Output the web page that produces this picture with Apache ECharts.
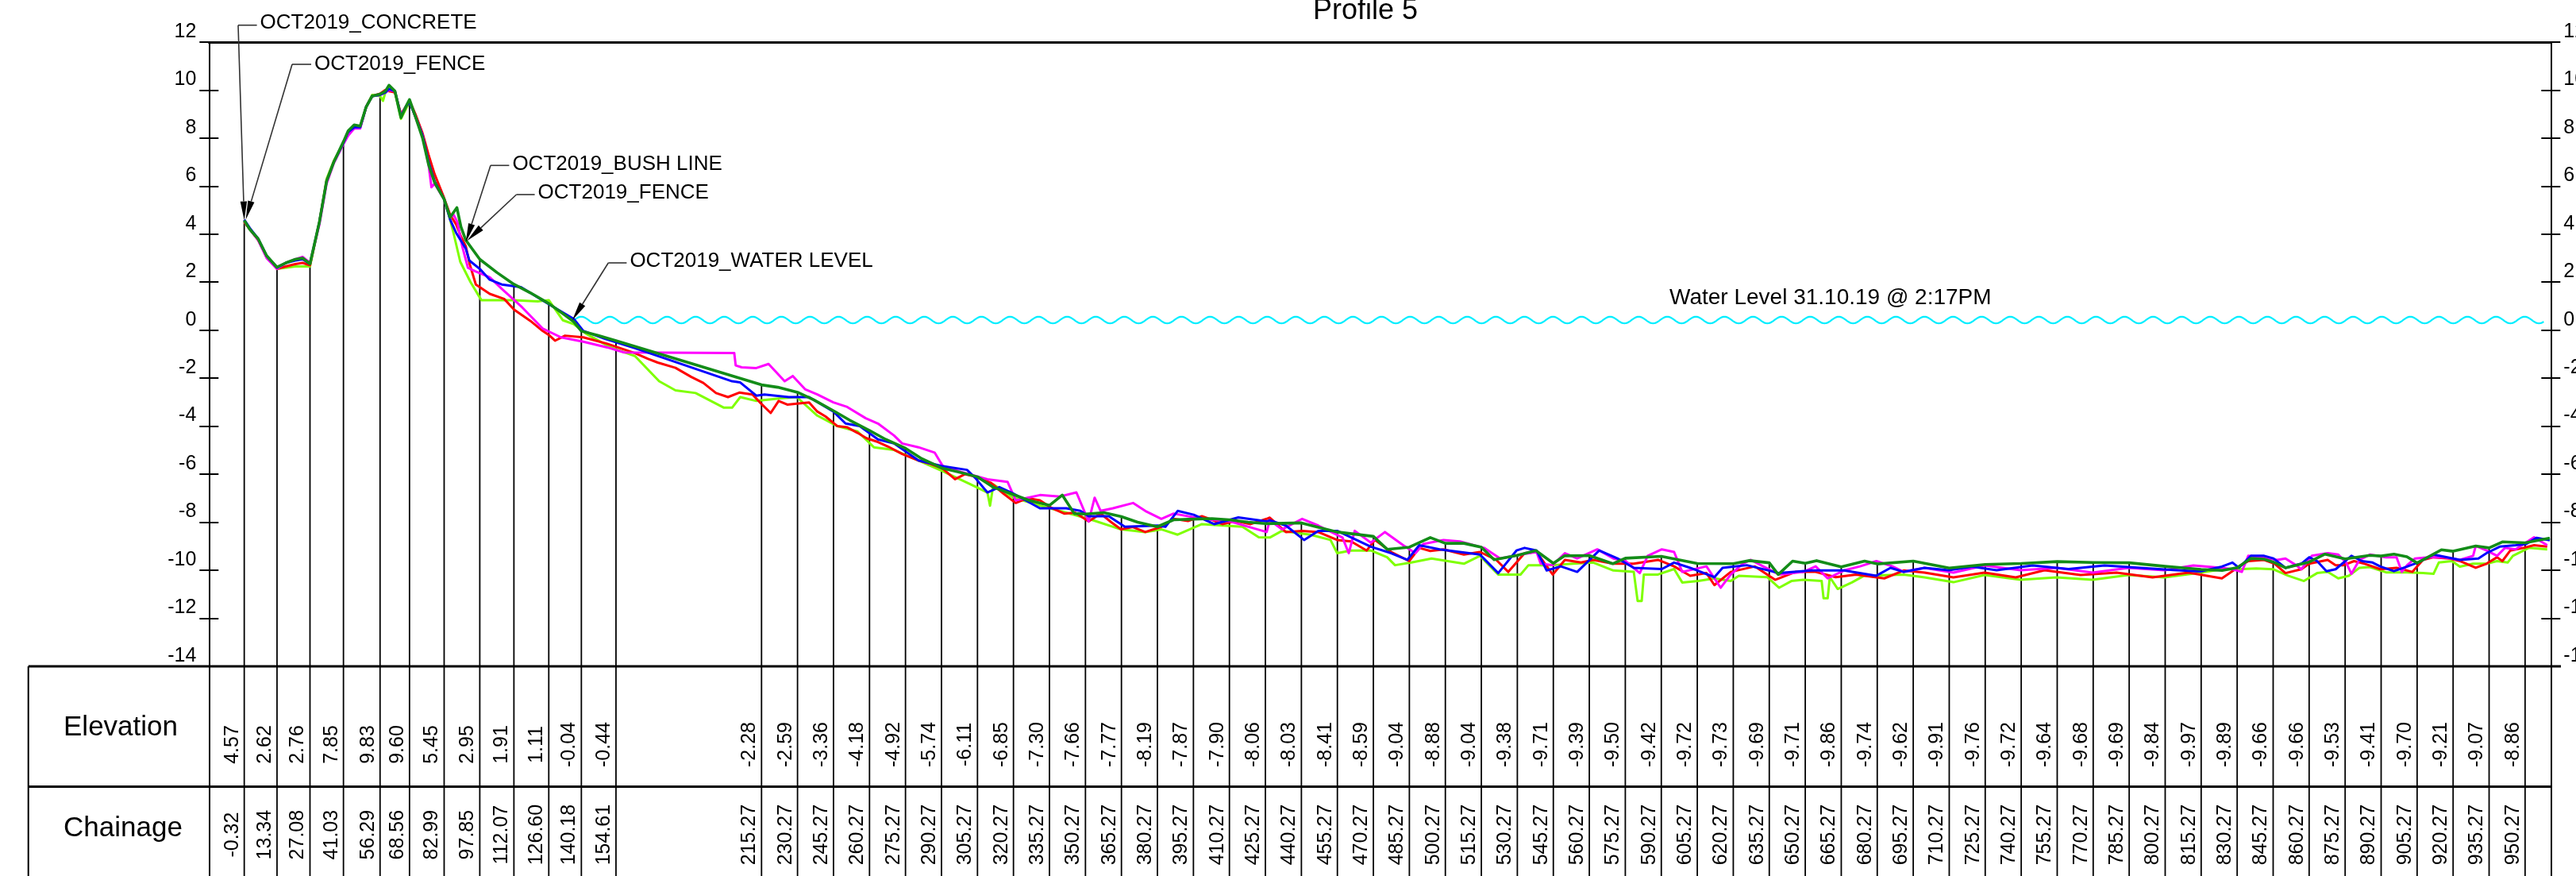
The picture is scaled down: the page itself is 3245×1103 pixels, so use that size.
<!DOCTYPE html>
<html><head><meta charset="utf-8">
<script src="https://cdn.jsdelivr.net/npm/echarts@6/dist/echarts.min.js"></script>
<style>html,body{margin:0;padding:0;background:#fff}#c{width:3245px;height:1103px}</style>
</head><body><div id="c"></div><script>
// ---------- DATA ----------
const stations = [-0.32,13.34,27.08,41.03,56.29,68.56,82.99,97.85,112.07,126.60,140.18,154.61,
215.27,230.27,245.27,260.27,275.27,290.27,305.27,320.27,335.27,350.27,365.27,380.27,395.27,410.27,425.27,
440.27,455.27,470.27,485.27,500.27,515.27,530.27,545.27,560.27,575.27,590.27,605.27,620.27,635.27,650.27,665.27,680.27,695.27,
710.27,725.27,740.27,755.27,770.27,785.27,800.27,815.27,830.27,845.27,
860.27,875.27,890.27,905.27,920.27,935.27,950.27];
const elevations = [4.57,2.62,2.76,7.85,9.83,9.60,5.45,2.95,1.91,1.11,-0.04,-0.44,
-2.28,-2.59,-3.36,-4.18,-4.92,-5.74,-6.11,-6.85,-7.30,-7.66,-7.77,-8.19,-7.87,-7.90,-8.06,
-8.03,-8.41,-8.59,-9.04,-8.88,-9.04,-9.38,-9.71,-9.39,-9.50,-9.42,-9.72,-9.73,-9.69,-9.71,-9.86,-9.74,-9.62,
-9.91,-9.76,-9.72,-9.64,-9.68,-9.69,-9.84,-9.97,-9.89,-9.66,
-9.66,-9.53,-9.41,-9.70,-9.21,-9.07,-8.86];

const darkGreen = [[-0.32,4.57],[2,4.2],[5.5,3.8],[9,3.1],[13.34,2.62],[17,2.8],[21,2.95],[24,3.0],[27.08,2.76],[31,4.5],[34,6.2],[37,7.0],[41.03,7.85],[43,8.3],[45.5,8.55],[48,8.5],[50.5,9.3],[53,9.75],[56.29,9.83],[58.5,9.95],[60,10.2],[62.5,9.95],[65,8.85],[67,9.3],[68.56,9.60],[71,8.9],[74,8.0],[76.5,6.9],[79,6.15],[82.99,5.45],[85.5,4.7],[88.3,5.1],[90,4.3],[92,3.75],[97.85,2.95],[105,2.4],[112.07,1.91],[119,1.55],[126.60,1.11],[133,0.65],[137,0.35],[140.18,-0.04],[147,-0.22],[154.61,-0.44],[185,-1.36],[215.27,-2.28],[222,-2.38],[230.27,-2.59],[237,-2.9],[245.27,-3.36],[252,-3.75],[260.27,-4.18],[267,-4.55],[275.27,-4.92],[282,-5.35],[290.27,-5.74],[297,-5.9],[305.27,-6.11],[312,-6.55],[320.27,-6.85],[327,-7.1],[335.27,-7.30],[340.6,-6.87],[345.6,-7.64],[350.27,-7.66],[358,-7.6],[365.27,-7.77],[372,-8.0],[380.27,-8.19],[387,-7.9],[395.27,-7.87],[403,-7.85],[410.27,-7.90],[418,-8.0],[425.27,-8.06],[440.27,-8.03],[455.27,-8.41],[470.27,-8.59],[476,-9.13],[485.27,-9.04],[494,-8.64],[500.27,-8.88],[508,-8.88],[515.27,-9.04],[520.6,-9.56],[530.27,-9.38],[538,-9.18],[545.27,-9.71],[550,-9.4],[560.27,-9.39],[570,-9.73],[575.27,-9.50],[590.27,-9.42],[605.27,-9.72],[620.27,-9.73],[627,-9.6],[635.27,-9.69],[639,-10.18],[645,-9.62],[650.27,-9.71],[655,-9.6],[665.27,-9.86],[675,-9.62],[680.27,-9.74],[695.27,-9.62],[710.27,-9.91],[725.27,-9.76],[740.27,-9.72],[755.27,-9.64],[770.27,-9.68],[785.27,-9.69],[800.27,-9.84],[815.27,-9.97],[824,-10.01],[830.27,-9.89],[836,-9.51],[841.5,-9.54],[845.27,-9.66],[850.4,-9.9],[860.27,-9.66],[866.9,-9.33],[875.27,-9.53],[885.6,-9.38],[890.27,-9.41],[895.6,-9.33],[901,-9.44],[905.27,-9.70],[915.4,-9.15],[920.27,-9.21],[929.7,-8.99],[935.27,-9.07],[940.8,-8.82],[950.27,-8.86],[960.6,-8.66]];

const blue = [[-0.32,4.6],[2,4.25],[5.5,3.8],[9,3.1],[13.34,2.6],[17,2.8],[21,2.9],[24,2.95],[27.08,2.76],[31,4.5],[34,6.2],[37,7.0],[41.03,7.8],[43,8.25],[45.5,8.45],[48,8.45],[50.5,9.3],[53,9.75],[56.29,9.8],[58.5,9.9],[60,10.05],[62.5,9.95],[65,8.9],[67,9.3],[68.56,9.5],[71,8.9],[74,8.1],[76.5,7.0],[79,6.2],[82.99,5.45],[85.5,4.6],[88,4.05],[92,3.4],[93.5,2.9],[97.85,2.55],[102,2.1],[107,1.9],[115,1.79],[126.6,1.08],[137,0.47],[141,-0.03],[150,-0.36],[162.5,-0.75],[203,-2.13],[206.4,-2.18],[213.1,-2.73],[216.5,-2.68],[226.6,-2.79],[235.1,-2.79],[245.2,-3.39],[250.3,-3.89],[256.2,-4.00],[263.8,-4.55],[270.5,-4.72],[280.7,-5.43],[290.3,-5.66],[300.9,-5.82],[304.3,-6.15],[309.4,-6.76],[314.4,-6.54],[320.3,-6.81],[331.3,-7.42],[342.3,-7.42],[348.2,-7.53],[351.6,-7.75],[360,-7.75],[366.7,-8.19],[380.3,-8.14],[383.6,-8.19],[388.7,-7.53],[395.4,-7.69],[403.9,-8.08],[414,-7.80],[425.8,-7.97],[427.1,-7.92],[433.8,-8.14],[441.4,-8.74],[447.3,-8.36],[455.2,-8.36],[469.2,-9.02],[477.7,-9.29],[484.4,-9.57],[489.4,-8.96],[497.9,-9.13],[506.3,-9.24],[514.7,-9.35],[522.3,-10.12],[529.9,-9.18],[533.3,-9.07],[538.3,-9.18],[542.5,-10.01],[548.4,-9.84],[555.2,-10.07],[564.4,-9.18],[572,-9.51],[578.8,-9.90],[590.5,-9.95],[595.6,-9.68],[602.3,-9.90],[612.4,-10.29],[615.8,-9.90],[625.9,-9.79],[639.4,-10.12],[652.9,-10.01],[666.4,-10.01],[679.9,-10.23],[685.8,-9.90],[691.3,-10.07],[700,-9.9],[710,-10.0],[720,-9.85],[730,-10.0],[745,-9.8],[760,-9.95],[775,-9.8],[790,-9.9],[805,-10.0],[815,-10.05],[823.9,-9.85],[828.3,-9.68],[831,-9.90],[836,-9.40],[841.5,-9.40],[845.4,-9.51],[850.4,-9.90],[857,-9.73],[860.3,-9.46],[863.6,-9.62],[867.5,-10.04],[871.3,-9.96],[877.9,-9.40],[882.3,-9.62],[886.7,-9.68],[890,-9.85],[895.6,-10.04],[901.1,-9.85],[905.5,-9.68],[912.1,-9.35],[923.1,-9.57],[930.8,-9.51],[934.2,-9.29],[939.7,-9.02],[946.3,-8.96],[950.7,-8.91],[955.1,-8.65],[960.6,-8.75]];

const red = [[-0.32,4.5],[2,4.2],[5.5,3.75],[9,3.05],[13.34,2.55],[17,2.65],[21,2.75],[24,2.8],[27.08,2.7],[31,4.5],[34,6.2],[37,7.0],[41.03,7.8],[43,8.25],[45.5,8.4],[48,8.45],[50.5,9.3],[53,9.75],[56.29,9.85],[58.5,10.0],[60,9.95],[62.5,9.9],[65,9.0],[67,9.3],[68.56,9.55],[71,9.0],[74,8.2],[76.5,7.3],[79,6.5],[82.99,5.5],[85.5,4.8],[88,4.4],[90,3.9],[92,3.5],[93.7,2.73],[96.2,1.9],[102,1.51],[108,1.3],[112.2,0.85],[119,0.38],[124,-0.03],[126.6,-0.2],[129.2,-0.44],[133.4,-0.23],[141,-0.3],[151,-0.57],[162.5,-0.96],[168,-1.2],[172,-1.35],[179.4,-1.57],[186,-1.95],[191,-2.2],[196.3,-2.62],[201.3,-2.79],[206,-2.6],[211.5,-2.68],[215,-3.05],[219.1,-3.45],[222.4,-2.95],[226,-3.1],[230,-3.06],[235.1,-3.01],[238.5,-3.39],[242,-3.6],[246.9,-4.00],[251,-4.05],[255.3,-4.28],[259,-4.5],[263.8,-4.66],[268,-4.85],[273.9,-5.16],[280.7,-5.43],[285,-5.55],[290.8,-5.77],[295.9,-6.21],[300,-6.0],[304.3,-6.10],[311,-6.37],[316,-6.8],[321.2,-7.20],[326,-7.0],[331.3,-7.09],[336,-7.4],[341.4,-7.64],[346,-7.6],[351.6,-7.97],[356.6,-7.64],[361,-8.0],[365.1,-8.30],[370,-8.2],[375.2,-8.41],[382,-8.19],[387,-7.86],[393,-7.95],[398.8,-7.75],[403,-7.9],[407.3,-8.08],[413,-7.95],[419.1,-8.08],[425.8,-7.86],[427.1,-7.81],[433.8,-8.41],[440.6,-8.36],[447.3,-8.41],[455.2,-8.74],[461,-8.8],[467.5,-9.18],[470.9,-8.74],[477.7,-9.24],[485.2,-9.62],[489.4,-9.07],[494,-9.2],[499.5,-9.13],[508,-9.35],[514.7,-9.24],[521.5,-9.57],[526.5,-10.07],[533.3,-9.29],[538.3,-9.24],[545,-10.18],[550.1,-9.57],[556.8,-9.68],[561.9,-9.57],[570.3,-9.73],[578.8,-9.73],[588.9,-9.57],[595.6,-9.84],[602.3,-10.23],[609.1,-10.12],[612.4,-10.62],[619.2,-10.07],[629.3,-9.84],[637.7,-10.40],[646.2,-10.07],[654.6,-10.07],[663,-10.29],[671.4,-10.18],[683.2,-10.34],[691.3,-10.01],[700,-10.1],[712,-10.3],[725,-10.1],[738,-10.3],[750,-10.0],[765,-10.2],[780,-10.1],[795,-10.3],[810,-10.1],[823.9,-10.34],[830.3,-9.90],[834.9,-9.62],[841.5,-9.57],[845.9,-9.73],[850.4,-10.12],[857,-9.96],[860.3,-9.73],[868,-9.57],[871.3,-9.79],[874.6,-9.79],[879,-9.62],[883.4,-9.73],[890,-9.96],[896.7,-9.90],[903.3,-10.07],[907.7,-9.57],[912.1,-9.46],[918.7,-9.51],[923.1,-9.62],[929.7,-9.90],[934.2,-9.73],[938.6,-9.46],[940.8,-9.62],[944.1,-9.18],[949.6,-9.07],[954,-8.96],[959.5,-9.02]];

const magenta = [[-0.32,4.55],[2,4.2],[5.5,3.75],[9,3.0],[13.34,2.55],[17,2.8],[21,2.95],[24,3.05],[27.08,2.8],[31,4.4],[34,6.1],[37,6.95],[41.03,7.75],[43,8.1],[45.5,8.4],[48,8.4],[50.5,9.3],[53,9.75],[56.29,9.8],[58.5,9.9],[60,10.0],[62.5,9.95],[65,8.95],[67,9.3],[68.56,9.55],[71,8.9],[74,8.1],[76.5,6.9],[77.7,5.95],[79,6.1],[82.99,5.45],[85.5,4.7],[87,4.8],[88.5,4.5],[90.5,3.5],[92.9,2.6],[96,2.45],[102,2.2],[107,1.72],[115.5,0.95],[124,0.07],[131.7,-0.3],[141,-0.48],[151,-0.72],[158,-0.93],[203.9,-0.95],[204.5,-1.47],[207,-1.55],[213.1,-1.58],[218.2,-1.41],[224.9,-2.13],[228.3,-1.91],[233.4,-2.46],[238.5,-2.68],[245.2,-3.01],[251,-3.2],[258.7,-3.67],[263.8,-3.89],[270.5,-4.39],[273.9,-4.72],[280.7,-4.88],[287.4,-5.10],[290.8,-5.66],[297.5,-5.88],[309.4,-6.21],[317.8,-6.32],[321.2,-7.09],[331.3,-6.87],[339.7,-6.93],[346.5,-6.76],[351.6,-7.97],[354.1,-6.98],[356.6,-7.53],[361.7,-7.42],[370.1,-7.20],[375.2,-7.53],[381.9,-7.86],[387,-7.64],[398.8,-7.86],[410.6,-7.97],[425.8,-8.41],[427.1,-7.92],[432.2,-8.30],[440.6,-7.86],[447.3,-8.14],[457.4,-8.64],[460,-9.29],[462.5,-8.36],[469.2,-8.85],[475.1,-8.41],[482.7,-8.96],[487.8,-9.29],[491.1,-8.91],[499.5,-8.74],[506.3,-8.80],[516.4,-9.07],[523.1,-9.51],[531.6,-9.35],[538.3,-9.24],[540,-9.73],[545,-9.79],[550.1,-9.29],[555.2,-9.51],[563.6,-9.13],[570.3,-9.51],[575.4,-9.62],[581.3,-10.12],[584.6,-9.40],[590.5,-9.13],[595.6,-9.24],[599,-10.07],[609.1,-9.84],[615,-10.73],[619.2,-10.18],[624.2,-9.73],[627.6,-9.57],[632.7,-9.84],[639.4,-10.18],[649.5,-10.07],[654.6,-9.84],[659.6,-10.34],[666.4,-10.01],[673.1,-9.84],[679.9,-9.62],[686.6,-9.84],[691.3,-10.07],[700,-9.9],[712,-10.1],[725,-9.8],[740,-10.0],[755,-9.9],[770,-10.1],[785,-9.9],[800,-10.0],[812,-9.8],[823.9,-9.90],[828.3,-9.96],[832.2,-10.07],[834.9,-9.40],[840.4,-9.46],[847,-9.57],[850.4,-9.51],[854.8,-9.79],[857,-9.96],[861.4,-9.40],[868,-9.29],[872.4,-9.35],[875.7,-9.68],[877.9,-10.15],[881.2,-9.57],[885.6,-9.35],[892.3,-9.46],[896.7,-9.46],[898.9,-10.07],[901.1,-9.79],[904.4,-9.51],[909.9,-9.46],[916.5,-9.46],[923.1,-9.57],[928.6,-9.40],[929.7,-8.99],[934.2,-9.18],[938.6,-9.40],[941.9,-9.07],[946.3,-9.13],[954,-8.63],[959.5,-8.96]];

const lime = [[-0.32,4.5],[2,4.2],[5.5,3.75],[9,3.05],[13.34,2.55],[17,2.6],[21,2.65],[24,2.65],[27.08,2.65],[31,4.5],[34,6.3],[37,7.05],[41.03,7.8],[43,8.2],[45.5,8.45],[48,8.45],[50.5,9.3],[53,9.8],[56.29,9.75],[57.5,9.55],[58.5,9.9],[60,10.0],[62.5,9.9],[65,8.8],[67,9.2],[68.56,9.5],[71,8.9],[74,8.1],[76.5,7.0],[79,6.2],[82.99,5.45],[85.5,4.6],[87,4.0],[89.7,2.85],[94,2.0],[98.5,1.25],[112,1.25],[122,1.2],[126.6,1.25],[132.5,0.41],[137,0.25],[142,-0.14],[152,-0.7],[162.5,-1.08],[172.6,-2.13],[179.4,-2.51],[187.8,-2.62],[199.6,-3.23],[203,-3.23],[206.4,-2.79],[213.1,-2.95],[223.3,-2.84],[230,-2.79],[238.5,-3.56],[246.9,-4.00],[255.3,-4.22],[262.1,-4.88],[270.5,-4.99],[280.7,-5.43],[290.8,-5.88],[302.6,-6.43],[309.4,-6.76],[310.5,-7.31],[311.9,-6.43],[320.3,-6.98],[331.3,-7.31],[341.4,-7.58],[351.6,-7.86],[365.1,-8.30],[375.2,-8.41],[382,-8.30],[388.7,-8.52],[398.8,-8.08],[415.7,-8.19],[422.5,-8.63],[427.1,-8.64],[432.2,-8.36],[444,-8.52],[452.4,-8.74],[455.2,-9.29],[460.8,-9.18],[469.2,-9.18],[476,-9.46],[479.3,-9.79],[486.1,-9.68],[494.5,-9.51],[508,-9.73],[514.7,-9.40],[522.3,-10.18],[531.6,-10.18],[534.9,-9.79],[545,-9.79],[553.5,-9.73],[561.9,-9.68],[570.3,-10.01],[578.8,-10.07],[580.4,-11.28],[582.1,-11.28],[583,-10.18],[588.9,-10.18],[595.6,-9.95],[599,-10.51],[605.7,-10.45],[612.4,-10.34],[619.2,-10.45],[622.6,-10.23],[634.4,-10.29],[639.4,-10.73],[644.5,-10.45],[649.5,-10.40],[657.1,-10.45],[657.9,-11.17],[659.6,-11.17],[660.5,-10.29],[663.8,-10.78],[669.7,-10.51],[674.8,-10.23],[691.3,-10.18],[700,-10.3],[712,-10.5],[725,-10.2],[740,-10.4],[755,-10.3],[770,-10.4],[785,-10.2],[800,-10.3],[815,-10.1],[823.9,-9.96],[830.5,-9.96],[838.2,-9.93],[845.4,-9.96],[851.5,-10.23],[858.1,-10.45],[863.6,-10.12],[868,-10.07],[872.4,-10.34],[876.8,-10.23],[881.2,-9.90],[885.6,-9.87],[892.3,-10.09],[901.1,-10.09],[907.7,-10.12],[912.1,-10.15],[914.3,-9.68],[919.8,-9.62],[923.1,-9.85],[928.6,-9.73],[934.2,-9.73],[938.6,-9.62],[943,-9.68],[945.2,-9.40],[951.8,-9.07],[959.5,-9.13]];

const waterLevel = [[137.2, 958.2, 0.42]];
const waterLevelLabel = 'Water Level 31.10.19 @ 2:17PM';
const titleText = 'Profile 5';
const rowLabels = ['Elevation', 'Chainage'];
const annotationLabels = ['OCT2019_CONCRETE','OCT2019_FENCE','OCT2019_BUSH LINE','OCT2019_FENCE','OCT2019_WATER LEVEL'];
const annotationPoints = [[-0.32,4.57],[0.3,4.6],[92,3.66],[92.5,3.72],[136.4,0.41]];

// ---------- LAYOUT ----------
const FONT = "'Liberation Sans', Arial, Helvetica, sans-serif";
const X0 = -15, X1 = 961;
const annotationTextPos = [[327.6,29.2],[396,80.5],[645.4,206.7],[677.6,242.5],[793.4,329]];
const annotationElbows = [[300,31.7],[368,81],[618,208.3],[650.5,245],[766.3,331]];

const chart = echarts.init(document.getElementById('c'), null, {renderer:'canvas'});

function profile(name, data, color, width, z){
  return {type:'line', name, data, xAxisIndex:0, yAxisIndex:0, symbol:'none', showSymbol:false,
    lineStyle:{color, width, join:'round'}, itemStyle:{color}, z, silent:true, animation:false};
}
const yLabel = {show:true, fontSize:25, color:'#000', fontFamily:FONT, margin:16, verticalAlign:'bottom', lineHeight:26};
const axLine = {show:true, onZero:false, lineStyle:{color:'#000', width:2}};
const tickOut = {show:true, length:12, lineStyle:{color:'#000', width:2}};
const tickIn = {show:true, inside:true, length:12, lineStyle:{color:'#000', width:2}};

chart.setOption({
  animation:false,
  backgroundColor:'#fff',
  grid:[
    {left:263.3, right:31.7, top:52.9, bottom:264.1, containLabel:false, outerBoundsMode:'none'},
    {left:263.3, right:31.7, top:839, height:303, containLabel:false, outerBoundsMode:'none'}
  ],
  xAxis:[
    {gridIndex:0, type:'value', min:X0, max:X1, position:'top',
      axisLine:{show:true, onZero:false, lineStyle:{color:'#000', width:3}}, axisTick:{show:false}, axisLabel:{show:false}, splitLine:{show:false}},
    {gridIndex:1, type:'value', min:X0, max:X1, show:false}
  ],
  yAxis:[
    {gridIndex:0, type:'value', position:'left', min:-14, max:12, interval:2, axisLine:axLine, axisTick:tickOut, axisLabel:yLabel, splitLine:{show:false}},
    {gridIndex:0, type:'value', position:'left', min:-14, max:12, interval:2, axisLine:{show:false, onZero:false}, axisTick:tickIn, axisLabel:{show:false}, splitLine:{show:false}},
    {gridIndex:0, type:'value', position:'right', min:-14, max:12, interval:2, axisLine:axLine, axisTick:tickOut, axisLabel:yLabel, splitLine:{show:false}},
    {gridIndex:0, type:'value', position:'right', min:-14, max:12, interval:2, axisLine:{show:false, onZero:false}, axisTick:tickIn, axisLabel:{show:false}, splitLine:{show:false}},
    {gridIndex:1, type:'value', position:'left', min:0, max:2, inverse:true, axisLine:axLine, axisTick:{show:false}, axisLabel:{show:false}, splitLine:{show:false}},
    {gridIndex:1, type:'value', position:'right', min:0, max:2, inverse:true, axisLine:axLine, axisTick:{show:false}, axisLabel:{show:false}, splitLine:{show:false}}
  ],
  series:[
    {type:'custom', name:'stations', xAxisIndex:0, yAxisIndex:0, z:1, silent:true, clip:false,
      data: stations.map((c,i)=>[c, elevations[i]]),
      renderItem:(params, api)=>{
        const p = api.coord([api.value(0), api.value(1)]);
        return {type:'line', shape:{x1:p[0], y1:p[1], x2:p[0], y2:api.getHeight()}, style:{stroke:'#000', lineWidth:1.8}};
      }},
    {type:'custom', name:'water', xAxisIndex:0, yAxisIndex:0, z:3, silent:true, clip:false,
      data: waterLevel,
      renderItem:(params, api)=>{
        const s = api.coord([api.value(0), api.value(2)]);
        const e = api.coord([api.value(1), api.value(2)]);
        const P = 36, A = 4.2, pts = [];
        for (let x = s[0]; x <= e[0]; x += 1.5) pts.push([x, s[1] - A*Math.sin(2*Math.PI*(x - s[0])/P)]);
        return {type:'polyline', shape:{points:pts}, style:{stroke:'#00EEFF', lineWidth:2.2, fill:null}};
      }},
    profile('OCT2019 lime', lime, '#7FFF00', 3, 4),
    profile('OCT2019 red', red, '#FF0000', 3, 5),
    profile('OCT2019 magenta', magenta, '#FF00FF', 3, 6),
    profile('OCT2019 blue', blue, '#0000FF', 3, 7),
    profile('OCT2019 dark green', darkGreen, '#138C18', 3.6, 8)
  ]
});

// ---------- table texts, frame, titles, annotations ----------
const toTable = (c, r) => chart.convertToPixel({xAxisIndex:1, yAxisIndex:4}, [c, r]);
const tl = toTable(X0, 0), tr = toTable(X1, 0), mid = toTable(X0, 1);
const rowH = mid[1] - tl[1];
const yElev = tl[1] + rowH*0.65;
const yChain = mid[1] + rowH*0.40;
const H = chart.getHeight();
const tableLeft = 35.7;
const g = [
  {type:'line', shape:{x1:tableLeft, y1:tl[1], x2:tr[0]+12.7, y2:tl[1]}, style:{stroke:'#000', lineWidth:3}, z:20},
  {type:'line', shape:{x1:tableLeft, y1:mid[1], x2:tr[0], y2:mid[1]}, style:{stroke:'#000', lineWidth:3}, z:20},
  {type:'line', shape:{x1:tableLeft, y1:tl[1], x2:tableLeft, y2:H}, style:{stroke:'#000', lineWidth:2}, z:20},
  {type:'text', x:152, y:916.7, style:{x:0, y:0, text:rowLabels[0], font:'35px '+FONT, fill:'#000', align:'center', verticalAlign:'middle'}, z:20},
  {type:'text', x:155, y:1043.3, style:{x:0, y:0, text:rowLabels[1], font:'35px '+FONT, fill:'#000', align:'center', verticalAlign:'middle'}, z:20},
  {type:'text', x:1720, y:14, style:{x:0, y:0, text:titleText, font:'36px '+FONT, fill:'#000', align:'center', verticalAlign:'middle'}, z:20},
  {type:'text', x:2103, y:375, style:{x:0, y:0, text:waterLevelLabel, font:'28px '+FONT, fill:'#000', align:'left', verticalAlign:'middle'}, z:20}
];
stations.forEach((c, i) => {
  const px = chart.convertToPixel({xAxisIndex:1, yAxisIndex:4}, [c, 0])[0] - 15;
  g.push({type:'text', x:px, y:yElev, rotation:Math.PI/2,
    style:{x:0, y:0, text:elevations[i].toFixed(2), font:'25px '+FONT, fill:'#000', align:'center', verticalAlign:'middle'}, z:20});
  g.push({type:'text', x:px, y:yChain, rotation:Math.PI/2,
    style:{x:0, y:0, text:c.toFixed(2), font:'25px '+FONT, fill:'#000', align:'center', verticalAlign:'middle'}, z:20});
});
annotationLabels.forEach((t, i) => {
  const tip = chart.convertToPixel({xAxisIndex:0, yAxisIndex:0}, annotationPoints[i]);
  const [ex, ey] = annotationElbows[i];
  const [tx, ty] = annotationTextPos[i];
  const dx = tip[0]-ex, dy = tip[1]-ey, L = Math.hypot(dx, dy), ux = dx/L, uy = dy/L;
  const bx = tip[0]-ux*24, by = tip[1]-uy*24, nx = -uy, ny = ux, w = 4.2;
  g.push({type:'line', shape:{x1:ex, y1:ey, x2:tx-4, y2:ey}, style:{stroke:'#333', lineWidth:1.6}, z:30});
  g.push({type:'line', shape:{x1:ex, y1:ey, x2:bx, y2:by}, style:{stroke:'#333', lineWidth:1.6}, z:30});
  g.push({type:'polygon', shape:{points:[[tip[0], tip[1]], [bx+nx*w, by+ny*w], [bx-nx*w, by-ny*w]]}, style:{fill:'#000'}, z:30});
  g.push({type:'text', x:tx, y:ty, style:{x:0, y:0, text:t, font:'26px '+FONT, fill:'#000', align:'left', verticalAlign:'middle'}, z:30});
});
chart.setOption({graphic:{elements:g}});
</script></body></html>
